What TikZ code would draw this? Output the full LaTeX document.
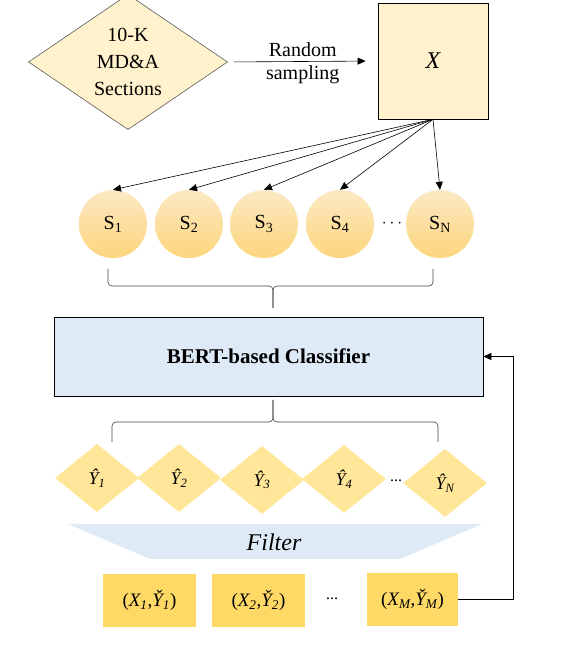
\documentclass[tikz,border=0pt]{standalone}
\usepackage{fontspec}
\setmainfont{Liberation Serif}
\usepackage{xcolor}
\usepackage{tikz}
\usetikzlibrary{positioning, arrows.meta, shapes.geometric}
\definecolor{docyellow}{HTML}{FFF2CC}
\definecolor{sampletop}{HTML}{FCE9C4}
\definecolor{samplebottom}{HTML}{FDD57C}
\definecolor{predyellow}{HTML}{FFE699}
\definecolor{pairgold}{HTML}{FFD966}
\definecolor{bertblue}{HTML}{DEEBF7}

\newcommand{\predy}[1]{\textit{\^{Y}\textsubscript{#1}}}
\newcommand{\pairxy}[2]{(\textit{X\textsubscript{#1}},\textit{\v{Y}\textsubscript{#2}})}

\tikzset{
    sample/.style={circle, minimum size=68pt, inner sep=0pt,
          top color=sampletop, bottom color=samplebottom,
          font=\fontsize{20}{22}\selectfont},
    pred/.style={diamond, fill=predyellow, minimum width=84pt, minimum height=68pt,
          inner sep=0pt, font=\fontsize{18}{20}\selectfont},
    pair/.style={fill=pairgold, minimum width=93pt, minimum height=53pt,
          inner sep=0pt, font=\fontsize{19}{21}\selectfont},
    conn/.style={-{Triangle[length=8pt, width=7pt]}, line width=0.6pt},
    curly/.style={draw=black!75, line width=0.6pt, rounded corners=4pt}
}

\begin{document}
\begin{tikzpicture}[x=1pt, y=1pt]
    \useasboundingbox (0,0) rectangle (586,660);

    \node[diamond, fill=docyellow, draw=black!65, line width=0.6pt,
          minimum width=199pt, minimum height=122pt, inner sep=0pt, align=center,
          font=\fontsize{20}{27}\selectfont] (docs) at (128,598) {10-K\\MD\&A\\Sections};
    \node[fill=docyellow, draw=black, line width=0.7pt, minimum width=110pt, minimum height=116pt,
          font=\fontsize{24}{26}\selectfont\itshape] (xset) at (433,599) {X};
    \draw[conn, shorten <=6pt, shorten >=12pt] (docs.east) -- (xset.west)
        node[midway, above=1pt, font=\fontsize{20}{22}\selectfont] (rnd) {Random}
        node[midway, below=1pt, font=\fontsize{20}{22}\selectfont] (smp) {sampling};

    \node[sample] (s1) at (113,436) {S\textsubscript{1}};
    \node[sample] (s2) at (189,436) {S\textsubscript{2}};
    \node[sample] (s3) at (264,436) {S\textsubscript{3}};
    \node[sample] (s4) at (340,436) {S\textsubscript{4}};
    \node[sample] (sn) at (440,436) {S\textsubscript{N}};
    \node[font=\fontsize{16}{18}\selectfont] (sdots) at (392,436) {$\cdots$};
    \foreach \s in {s1, s2, s3, s4, sn}
        \draw[conn] (xset.south) -- (\s.north);

    \draw[curly] (108,391) |- (273,374) -- (273,352);
    \draw[curly] (433,391) |- (273,374) -- (273,352);

    \node[fill=bertblue, draw=black, line width=0.7pt, minimum width=429pt, minimum height=79pt,
          font=\fontsize{21}{23}\selectfont\bfseries] (bert) at (268.5,303.5) {BERT-based Classifier};

    \draw[curly] (112,218) |- (273,238) -- (273,260);
    \draw[curly] (438,218) |- (273,238) -- (273,260);

    \node[pred] (y1) at (97,182) {\predy{1}};
    \node[pred] (y2) at (179,182) {\predy{2}};
    \node[pred] (y3) at (262,180) {\predy{3}};
    \node[pred] (y4) at (344,181) {\predy{4}};
    \node[pred] (yn) at (445,177) {\predy{N}};
    \node[font=\fontsize{16}{18}\selectfont] (ydots) at (396,179) {...};

    \fill[bertblue] (68,136) -- (482,136) -- (400,101) -- (150,101) -- cycle;
    \node[font=\fontsize{24}{26}\selectfont\itshape] (filter) at (274,118) {Filter};

    \node[pair] (p1) at (149.5,59.5) {\pairxy{1}{1}};
    \node[pair] (p2) at (258.5,59.5) {\pairxy{2}{2}};
    \node[pair, minimum width=91pt] (pm) at (412.5,60.5) {\pairxy{M}{M}};
    \node[font=\fontsize{16}{18}\selectfont] (pdots) at (332,61) {...};

    \draw[conn] (pm.east) -- ++(55,0) |- (bert.east);
\end{tikzpicture}
\end{document}
